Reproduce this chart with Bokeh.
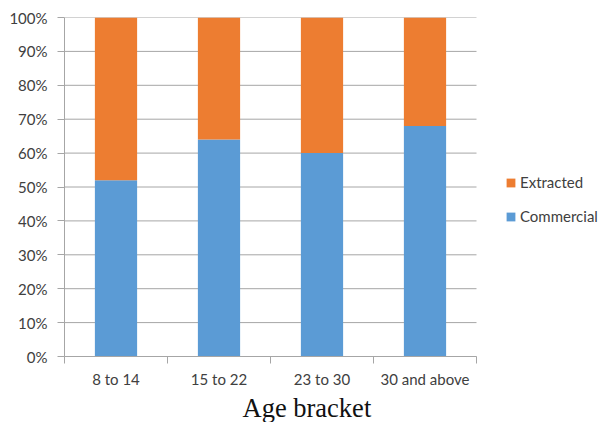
from bokeh.plotting import figure
from bokeh.models import (ColumnDataSource, FixedTicker, PrintfTickFormatter,
                          Range1d, Legend, LegendItem, Title)
from bokeh.embed import file_html
from bokeh.resources import INLINE

# Share of each source, per age bracket (percent)
brackets = ["8 to 14", "15 to 22", "23 to 30", "30 and above"]
commercial = [52, 64, 60, 68]
extracted = [48, 36, 40, 32]
y_ticks = [0, 10, 20, 30, 40, 50, 60, 70, 80, 90, 100]

BLUE = "#5B9BD5"
ORANGE = "#ED7D31"
GRID = "#a6a6a6"
TEXT = "#404040"
FONT = "Lato"

n = len(brackets)
pos = [i + 0.5 for i in range(n)]
source = ColumnDataSource(dict(x=pos, commercial=commercial, extracted=extracted))

# the frame runs on to the right edge so the legend has room beside the bars;
# the category axis and the gridlines only cover the n category slots
CAT_PX = 103
p = figure(width=605, height=422, output_backend="svg", toolbar_location=None,
           x_range=Range1d(0, (605 - 64) / CAT_PX), y_range=Range1d(0, 100),
           min_border_left=64, min_border_right=0,
           min_border_top=17, min_border_bottom=65)
p.outline_line_color = None
p.background_fill_color = "white"
p.border_fill_color = "white"
p.xgrid.grid_line_color = None
p.ygrid.grid_line_color = None

# horizontal gridlines at every y tick, across the category slots
p.segment(x0=[0] * len(y_ticks), x1=[n] * len(y_ticks), y0=y_ticks, y1=y_ticks,
          line_color=GRID, line_width=1)

bars = p.vbar_stack(["commercial", "extracted"], x="x", width=0.41,
                    color=[BLUE, ORANGE], line_color=None, source=source)

# y axis: percent ticks with short outward ticks
ya = p.yaxis[0]
ya.ticker = FixedTicker(ticks=y_ticks)
ya.formatter = PrintfTickFormatter(format="%d%%")
ya.major_tick_out = 7
ya.major_tick_in = 0
ya.minor_tick_out = 0
ya.minor_tick_in = 0
ya.axis_line_color = GRID
ya.major_tick_line_color = GRID
ya.major_label_standoff = 10
ya.major_label_text_font = FONT
ya.major_label_text_font_size = "15px"
ya.major_label_text_color = TEXT

# x axis: labels at bar centres, tick marks on the category boundaries
xa = p.xaxis[0]
xa.bounds = (0, n)
xa.ticker = FixedTicker(ticks=pos, minor_ticks=list(range(n + 1)))
xa.major_label_overrides = {p_: b for p_, b in zip(pos, brackets)}
xa.major_tick_out = 0
xa.major_tick_in = 0
xa.minor_tick_out = 7
xa.minor_tick_in = 0
xa.axis_line_color = GRID
xa.minor_tick_line_color = GRID
xa.major_label_standoff = 6
xa.major_label_text_font = FONT
xa.major_label_text_font_size = "15px"
xa.major_label_text_color = TEXT

# axis caption, set a little right of the category centre
p.add_layout(Title(text="Age bracket", align="left", offset=178, standoff=0,
                   text_font="Liberation Serif", text_font_size="26.5px",
                   text_font_style="normal", text_color="#111111"), "below")

legend = Legend(items=[LegendItem(label="Extracted", renderers=[bars[1]]),
                       LegendItem(label="Commercial", renderers=[bars[0]])],
                location=(441, 130), orientation="vertical",
                glyph_width=11, glyph_height=11, label_height=20,
                spacing=14, padding=0, margin=0, label_standoff=4,
                label_text_font=FONT, label_text_font_size="15px",
                label_text_color=TEXT, border_line_color=None,
                background_fill_alpha=0)
p.add_layout(legend, "center")

open("out.html", "w").write(file_html(p, INLINE))
